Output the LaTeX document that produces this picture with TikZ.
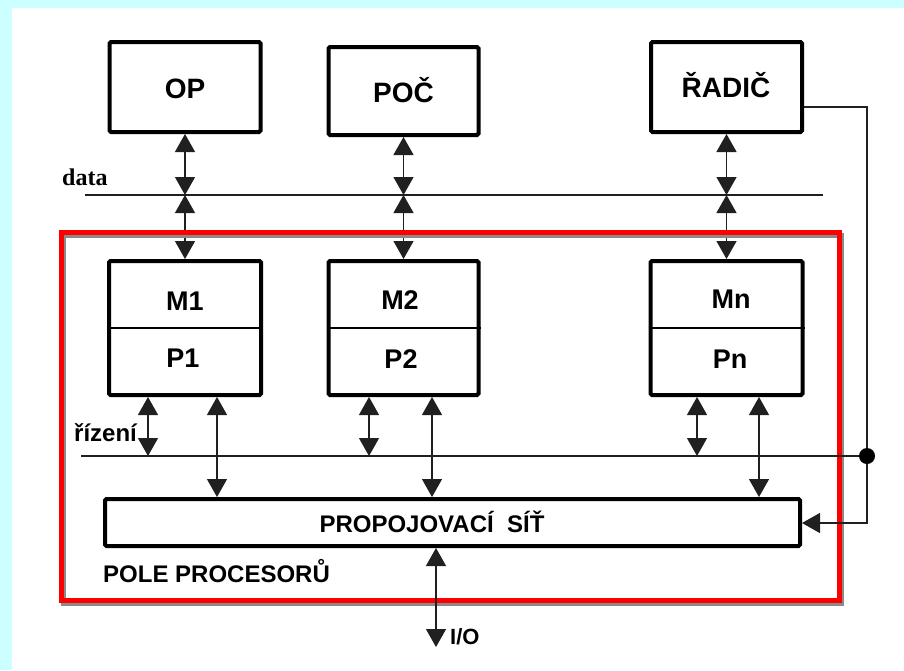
\documentclass[tikz,border=0pt]{standalone}
\usepackage{fontspec}
\setmainfont{Liberation Sans}
\newfontfamily\serifb{Liberation Serif}
\usetikzlibrary{arrows.meta}
\definecolor{bgc}{HTML}{CCFFFF}
\definecolor{ln}{HTML}{202020}
\definecolor{frame}{HTML}{FF0000}
\definecolor{shadowc}{HTML}{8A8A8A}
\begin{document}
\begin{tikzpicture}[x=1pt,y=-1pt,
  box/.style={draw=black, line width=4pt, rounded corners=1.5pt, fill=white, inner sep=0pt},
  lab/.style={font=\bfseries\fontsize{28}{30}\selectfont, inner sep=0pt, anchor=base},
  mlab/.style={font=\bfseries\fontsize{27}{29}\selectfont, inner sep=0pt, anchor=base},
  small/.style={font=\bfseries\fontsize{24}{26}\selectfont, inner sep=0pt},
  bus/.style={draw=ln, line width=1.3pt},
  tip/.tip={Triangle[length=18pt,width=20pt]},
  bi/.style={draw=ln, line width=1.3pt, tip-tip},
  divider/.style={draw=black, line width=1.6pt}
]
\useasboundingbox (0,0) rectangle (904,670);
\fill[bgc] (0,0) rectangle (904,670);
\fill[white] (12,8) rectangle (904,670);

% top boxes
\node[box, minimum width=151pt, minimum height=90pt] (op) at (185,87) {};
\node[box, minimum width=150pt, minimum height=88pt] (poc) at (403.5,91) {};
\node[box, minimum width=151pt, minimum height=90pt] (rad) at (726.5,87) {};
\node[lab] (opt) at (185,98) {OP};
\node[lab] (poct) at (403.5,102) {POČ};
\node[lab] (radt) at (726,97) {ŘADIČ};

% data bus
\coordinate (d0) at (85,195);
\coordinate (d9) at (823,195);
\coordinate (d1) at (185,195);
\coordinate (d2) at (403.5,195);
\coordinate (d3) at (726.5,195);
\draw[bus] (d0) -- (d9);
\node[font=\serifb\bfseries\fontsize{24}{26}\selectfont, inner sep=0pt, anchor=base west] (datat) at (62,185) {data};

% M/P boxes
\node[box, minimum width=152pt, minimum height=134pt] (mb1) at (185,328) {};
\node[box, minimum width=150pt, minimum height=134pt] (mb2) at (403.5,328) {};
\node[box, minimum width=152pt, minimum height=134pt] (mb3) at (726.5,328) {};
\draw[divider] (mb1.west) -- (mb1.east);
\draw[divider] (mb2.west) -- (mb2.east);
\draw[divider] (mb3.west) -- (mb3.east);
\node[mlab] (m1) at (185,310) {M1};
\node[mlab] (p1) at (183,367) {P1};
\node[mlab] (m2) at (400,309) {M2};
\node[mlab] (p2) at (401,368) {P2};
\node[mlab] (mn) at (731,308) {Mn};
\node[mlab] (pn) at (730,368) {Pn};

% data arrows
\draw[bi] (op.south) -- (d1);
\draw[bi] (d1) -- (mb1.north);
\draw[bi] (poc.south) -- (d2);
\draw[bi] (d2) -- (mb2.north);
\draw[bi] (rad.south) -- (d3);
\draw[bi] (d3) -- (mb3.north);

% frame with shadow
\draw[shadowc, line width=5pt] (63,235.5) rectangle (841,603);
\draw[frame, line width=5pt] (61,232.5) rectangle (839,600);

% interconnection network
\node[box, minimum width=695pt, minimum height=47pt] (net) at (452.5,522.5) {};
\node[small, anchor=base] (nett) at (432,532) {PROPOJOVACÍ~~SÍŤ};
\node[small, anchor=base west] (polet) at (103,582) {POLE PROCESORŮ};

% control bus
\coordinate (rz0) at (81,456);
\node[circle, fill=black, inner sep=0pt, minimum size=16pt] (dot) at (867,456) {};
\draw[bus] (rz0) -- (dot);
\node[small, anchor=base west] (rizt) at (74,441) {řízení};

\coordinate (c1) at (148,456);
\coordinate (c2) at (369,456);
\coordinate (c3) at (697,456);
\draw[bi] (mb1.south -| c1) -- (c1);
\draw[bi] (mb2.south -| c2) -- (c2);
\draw[bi] (mb3.south -| c3) -- (c3);

\coordinate (l1) at (217,497);
\coordinate (l2) at (432,497);
\coordinate (l3) at (759,497);
\draw[bi] (mb1.south -| l1) -- (net.north -| l1);
\draw[bi] (mb2.south -| l2) -- (net.north -| l2);
\draw[bi] (mb3.south -| l3) -- (net.north -| l3);

% controller feedback
\coordinate (rt) at (867,107);
\coordinate (rb) at (867,523);
\draw[bus] (rad.east |- rt) -- (rt) -- (dot);
\draw[bus, -tip] (dot) -- (rb) -- (net.east |- rb);

% I/O
\coordinate (io) at (436,647);
\draw[bi] (net.south -| io) -- (io);
\node[font=\bfseries\fontsize{22}{24}\selectfont, inner sep=0pt, anchor=west] (iot) at (450,637) {I/O};
\end{tikzpicture}
\end{document}
